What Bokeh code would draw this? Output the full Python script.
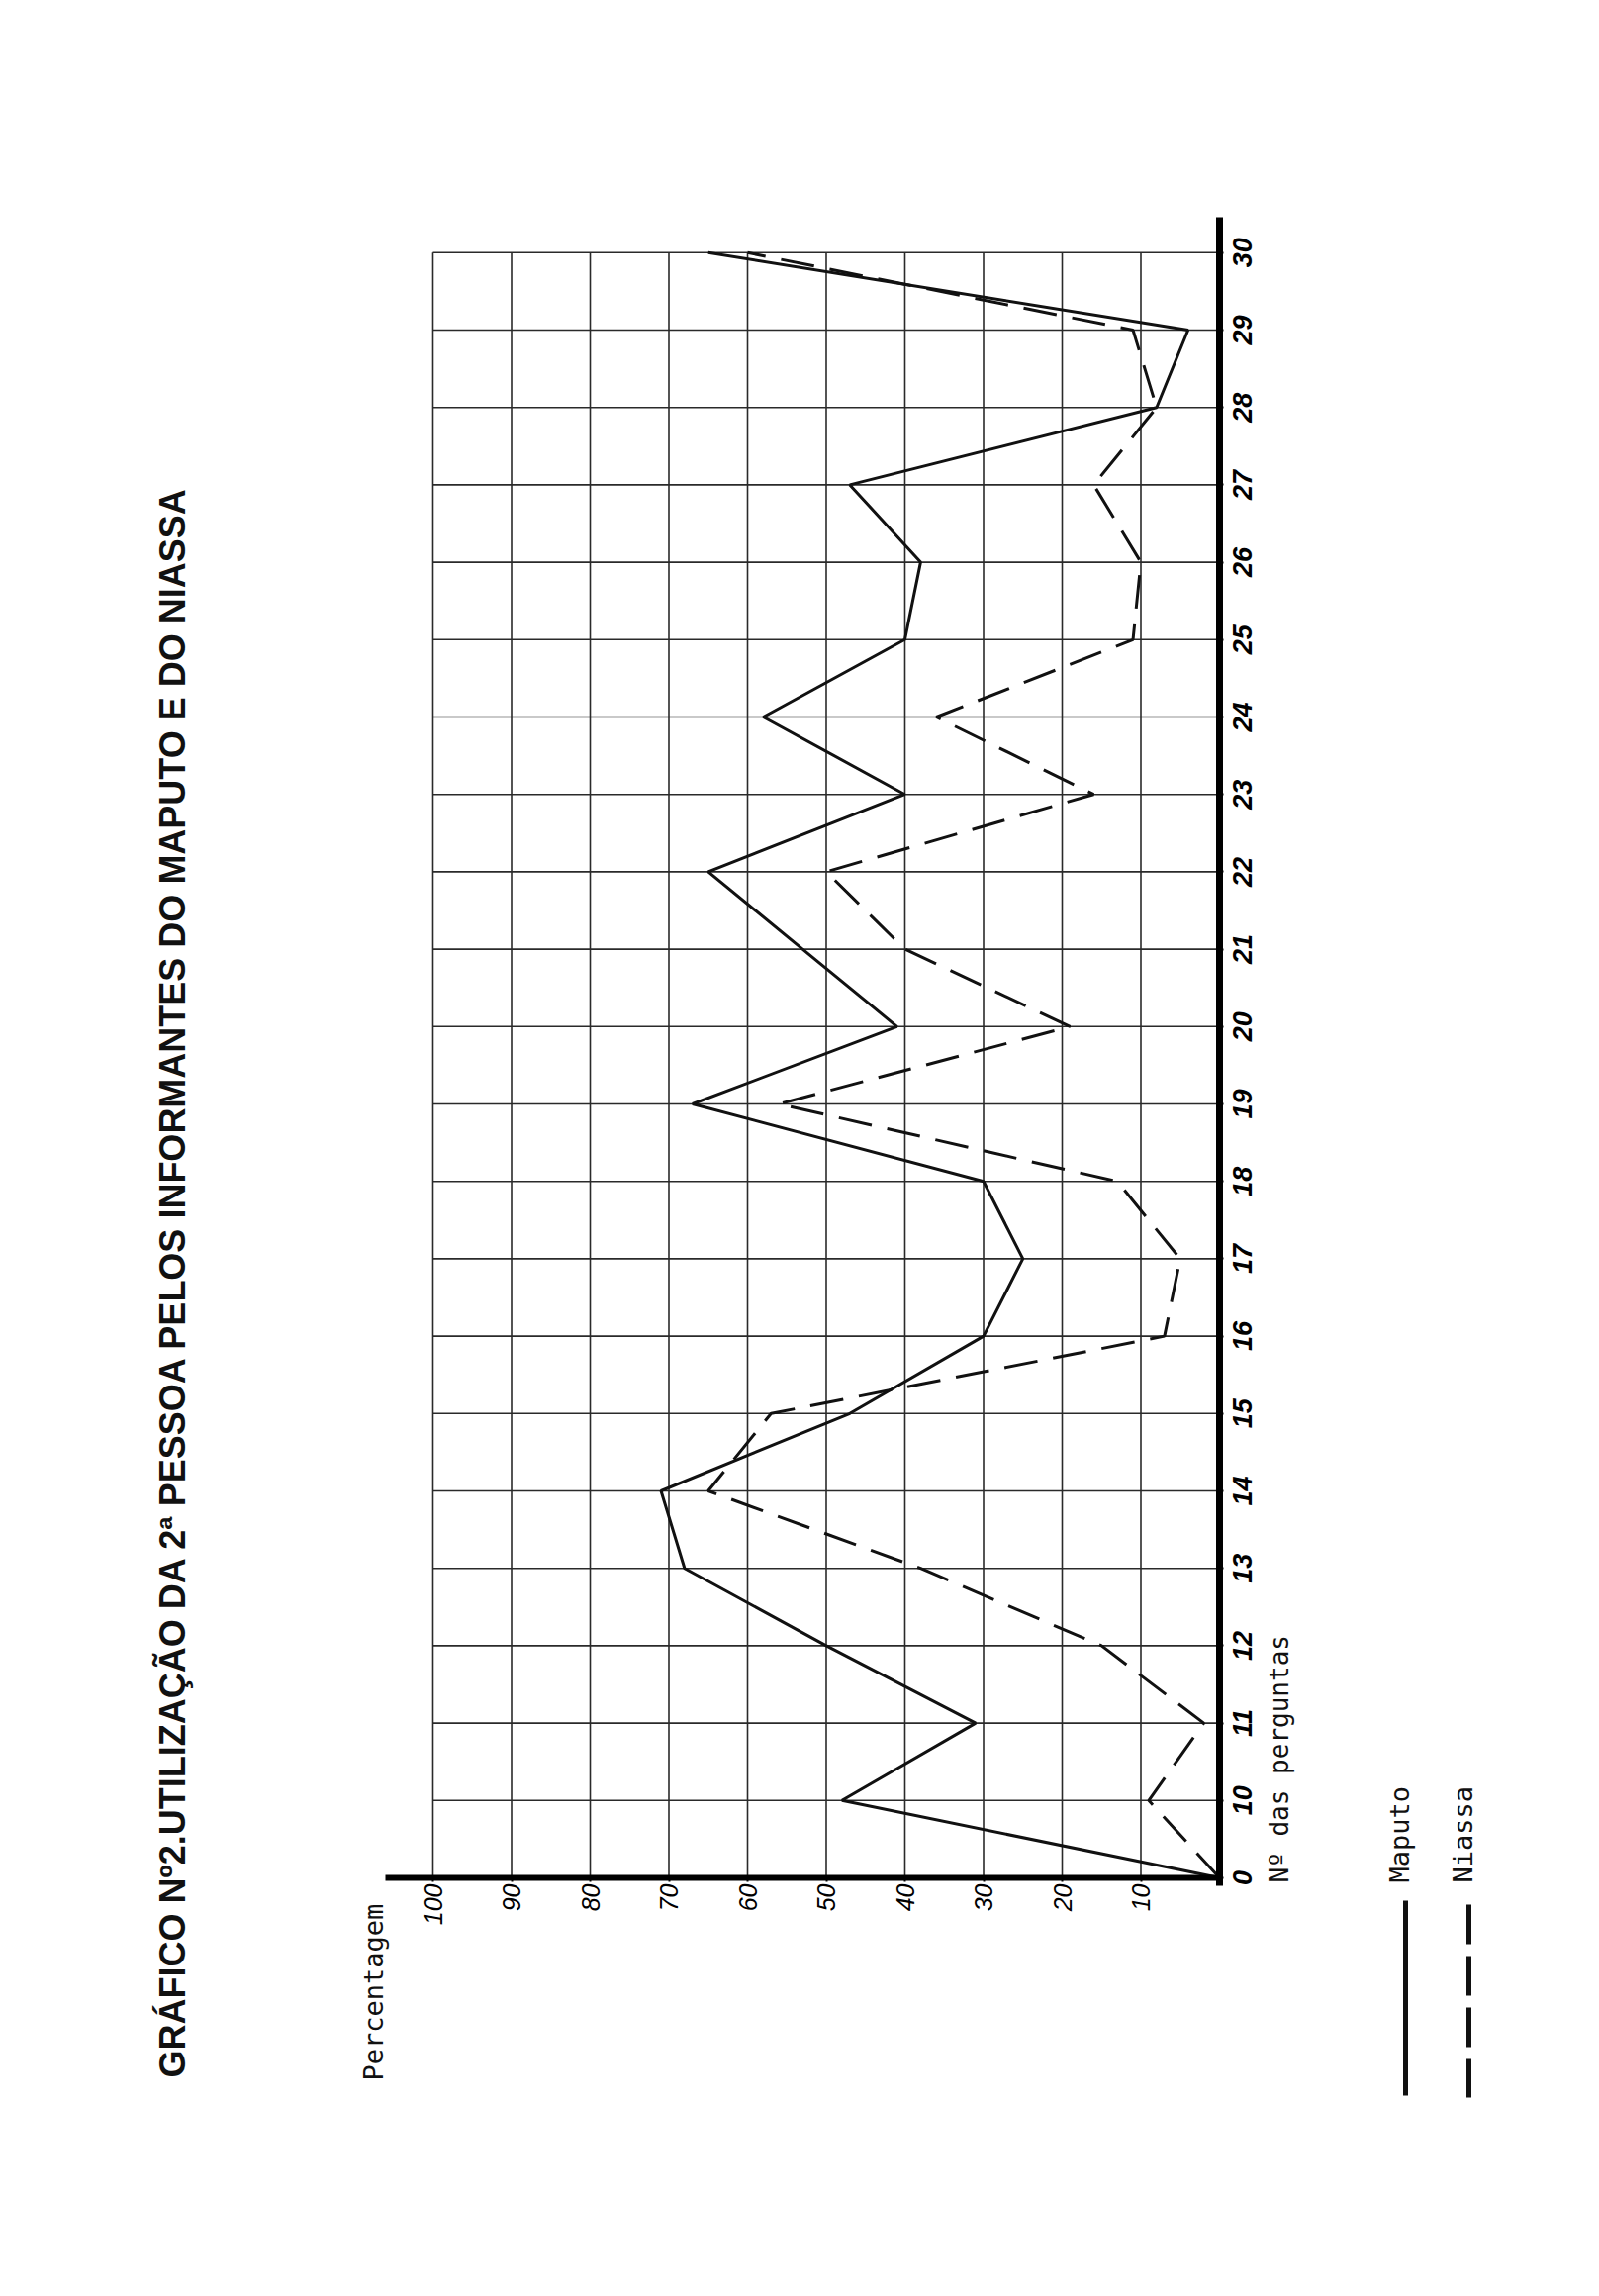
import math
from bokeh.plotting import figure
from bokeh.models import Range1d, LinearAxis, FixedTicker, ColumnDataSource
from bokeh.core.properties import value
from bokeh.embed import file_html
from bokeh.resources import INLINE

# ---------------- data ----------------
questions = ["0", "10", "11", "12", "13", "14", "15", "16", "17", "18", "19",
             "20", "21", "22", "23", "24", "25", "26", "27", "28", "29", "30"]
maputo = [0, 48, 31, 50, 68, 71, 47, 30, 25, 30, 67,
          41, 53, 65, 40, 58, 40, 38, 47, 8, 4, 65]
niassa = [0, 9, 2, 15, 38, 65, 57, 7, 5, 13, 56,
          19, 40, 50, 16, 36, 11, 10, 16, 8, 11, 60]
pct_ticks = [10, 20, 30, 40, 50, 60, 70, 80, 90, 100]

title_text = "GRÁFICO Nº2.UTILIZAÇÃO DA  2ª PESSOA  PELOS  INFORMANTES  DO  MAPUTO  E  DO  NIASSA"
pct_label = "Percentagem"
q_label = "Nº das perguntas"
legend_names = ["Maputo", "Niassa"]

# ---------------- geometry (the page is rotated: % runs right->left) ----------------
W, H = 1600, 2304
RB, BB = 80, 80
PAGE_X0, XPP = 1240.0, 7.95     # page x of 0 %, pixels per %
PAGE_Y0, YPP = 1905.0, 78.2     # page y of question 0, pixels per question step
fw, fh = W - RB, H - BB

def dx(page_x):
    return (PAGE_X0 - page_x) / XPP

def dy(page_y):
    return (PAGE_Y0 - page_y) / YPP

x_range = Range1d(dx(8), dx(8 + fw))
y_range = Range1d(dy(8 + fh), dy(8))

p = figure(width=W, height=H, x_range=x_range, y_range=y_range,
           x_axis_type=None, y_axis_type=None,
           output_backend="svg", toolbar_location=None,
           min_border_left=0, min_border_top=0,
           min_border_right=RB, min_border_bottom=BB)
p.title.visible = False
p.outline_line_color = None
p.xgrid.visible = False
p.ygrid.visible = False
p.background_fill_color = "white"
p.border_fill_color = "white"

pos = list(range(len(questions)))
top = pos[-1]

# ---------------- grid ----------------
vgrid = ColumnDataSource(dict(x0=pct_ticks, x1=pct_ticks,
                              y0=[0] * len(pct_ticks), y1=[top] * len(pct_ticks)))
hgrid = ColumnDataSource(dict(x0=[0] * (len(pos) - 1), x1=[100] * (len(pos) - 1),
                              y0=pos[1:], y1=pos[1:]))
p.segment(x0="x0", y0="y0", x1="x1", y1="y1", source=vgrid,
          line_color="#2a2a2a", line_width=1.6)
p.segment(x0="x0", y0="y0", x1="x1", y1="y1", source=hgrid,
          line_color="#2a2a2a", line_width=1.6)

# ---------------- axes ----------------
xaxis = LinearAxis(ticker=FixedTicker(ticks=pct_ticks), fixed_location=0,
                   bounds=(0, 106))
xaxis.axis_line_width = 6
xaxis.axis_line_color = "black"
xaxis.major_tick_out = 4
xaxis.major_tick_in = 0
xaxis.major_tick_line_width = 2
xaxis.minor_tick_out = 0
xaxis.minor_tick_in = 0
xaxis.major_label_orientation = math.pi / 2
xaxis.major_label_standoff = 2
xaxis.major_label_text_font = "Liberation Sans"
xaxis.major_label_text_font_style = "italic"
xaxis.major_label_text_font_size = "25px"
xaxis.major_label_text_color = "black"
p.add_layout(xaxis, "below")

# question axis: line and ticks from Bokeh; its labels are drawn centred on the rows below
yaxis = LinearAxis(ticker=FixedTicker(ticks=pos), fixed_location=0,
                   bounds=(-0.1, 21.46),
                   major_label_overrides={i: "" for i in pos})
yaxis.axis_line_width = 7
yaxis.axis_line_color = "black"
yaxis.major_tick_out = 4
yaxis.major_tick_in = 0
yaxis.major_tick_line_width = 2
yaxis.minor_tick_out = 0
yaxis.minor_tick_in = 0
p.add_layout(yaxis, "right")

p.text(x=[dx(1263)] * len(pos), y=pos, text=questions, angle=math.pi / 2,
       text_align="center", text_baseline="middle",
       text_font=value("Liberation Sans"), text_font_style="bold italic",
       text_font_size="27px", text_color="black")

# ---------------- data lines ----------------
src = ColumnDataSource(dict(pos=pos, maputo=maputo, niassa=niassa))
p.line(x="maputo", y="pos", source=src, line_color="#111111", line_width=3)
p.line(x="niassa", y="pos", source=src, line_color="#111111", line_width=3,
       line_dash="34 16")

# ---------------- texts ----------------
p.text(x=[dx(182)], y=[dy(2107)], text=[title_text], angle=math.pi / 2,
       text_align="left", text_baseline="middle",
       text_font=value("Liberation Sans"), text_font_style="bold",
       text_font_size="36px", text_color="#111111")

p.text(x=[dx(385)], y=[dy(2110)], text=[pct_label], angle=math.pi / 2,
       text_align="left", text_baseline="middle",
       text_font=value("DejaVu Sans Mono"), text_font_size="27px",
       text_color="#111111")

p.text(x=[dx(1300)], y=[dy(1910)], text=[q_label], angle=math.pi / 2,
       text_align="left", text_baseline="middle",
       text_font=value("DejaVu Sans Mono"), text_font_size="26px",
       text_color="#111111")

p.text(x=[dx(1422), dx(1486)], y=[dy(1910), dy(1910)], text=legend_names,
       angle=math.pi / 2, text_align="left", text_baseline="middle",
       text_font=value("DejaVu Sans Mono"), text_font_size="27px",
       text_color="#111111")

# legend samples
p.line(x=[dx(1428), dx(1428)], y=[dy(1928), dy(2125)],
       line_color="#111111", line_width=5)
p.line(x=[dx(1492), dx(1492)], y=[dy(1932), dy(2127)],
       line_color="#111111", line_width=5, line_dash="40 12")

open("out.html", "w").write(file_html(p, INLINE))
